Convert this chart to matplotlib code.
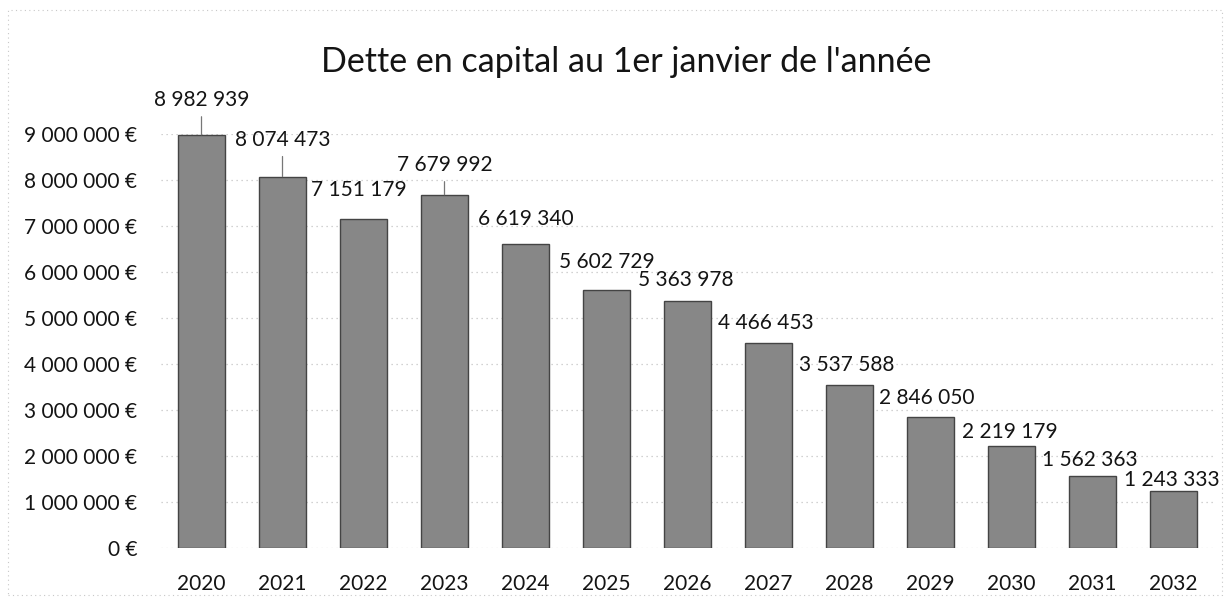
import matplotlib.pyplot as plt
import matplotlib.ticker as mticker
from matplotlib.patches import Rectangle

plt.rcParams['font.family'] = ['Lato', 'DejaVu Sans']

years = ['2020', '2021', '2022', '2023', '2024', '2025', '2026',
         '2027', '2028', '2029', '2030', '2031', '2032']
dette = [8982939, 8074473, 7151179, 7679992, 6619340, 5602729, 5363978,
         4466453, 3537588, 2846050, 2219179, 1562363, 1243333]

# label placement (pixels, relative to bar top) - dragged by hand in the original
label_dx = [0, 0, -5, 0, 0, 0, -2, -3, -3, -4, -2, -3, -2]
label_dy = [35, 37, 29, 30, 25, 28, 21, 20, 20, 19, 14, 16, 11]
leader = [True, True, False, True, False, False, False,
          False, False, False, False, False, False]


def fmt_space(v):
    return f"{int(v):,}".replace(",", " ")


fig = plt.figure(figsize=(12.31, 6.03), dpi=100)
ax = fig.add_axes([161 / 1231, 55 / 603, 1053 / 1231, 414 / 603])

x = range(len(years))
bars = ax.bar(x, dette, width=0.58, color='#878787', edgecolor='#444444',
              linewidth=1.0, zorder=3)

for i, b in enumerate(bars):
    top = b.get_height()
    cx = b.get_x() + b.get_width() / 2
    arrow = None
    if leader[i]:
        arrow = dict(arrowstyle='-', color='#777777', lw=0.9,
                     shrinkA=3, shrinkB=0)
    ax.annotate(fmt_space(dette[i]), xy=(cx, top),
                xytext=(label_dx[i], label_dy[i]), textcoords='offset pixels',
                ha='center', va='center', fontsize=15, color='#141414',
                arrowprops=arrow, annotation_clip=False, zorder=4)

ax.set_xlim(-0.5, len(years) - 0.5)
ax.set_ylim(0, 9000000)
ax.yaxis.set_major_locator(mticker.MultipleLocator(1000000))
ax.yaxis.set_major_formatter(mticker.FuncFormatter(lambda v, p: fmt_space(v) + " €"))
ax.set_xticks(list(x))
ax.set_xticklabels(years)
ax.tick_params(axis='both', length=0, labelsize=15, colors='#141414')
ax.tick_params(axis='y', pad=17)
ax.tick_params(axis='x', pad=19)
ax.grid(axis='y', color='#c4c4c4', linestyle=(0, (1, 3)), linewidth=0.9, zorder=0)
ax.set_axisbelow(True)
for s in ax.spines.values():
    s.set_visible(False)

fig.text(626 / 1231, 1 - 62 / 603, "Dette en capital au 1er janvier de l'année",
         ha='center', va='center', fontsize=24.5, color='#141414')

# chart area border
fig.patches.append(Rectangle((8 / 1231, 8 / 603), 1214 / 1231, 585 / 603,
                             transform=fig.transFigure, fill=False,
                             edgecolor='#c8c8c8', linestyle=(0, (1, 3)), lw=0.8))

fig.savefig('out.png', dpi=100)
